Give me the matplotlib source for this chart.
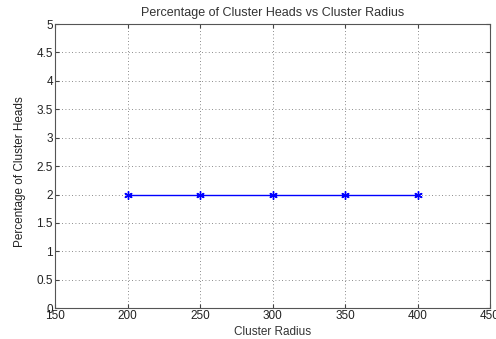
import numpy as np
import matplotlib
matplotlib.use("Agg")
import matplotlib.pyplot as plt

# data
radius = [200, 250, 300, 350, 400]
pct_heads = [2, 2, 2, 2, 2]

xticks = [150, 200, 250, 300, 350, 400, 450]
yticks = [0, 0.5, 1, 1.5, 2, 2.5, 3, 3.5, 4, 4.5, 5]

plt.rcParams['font.family'] = ['Liberation Sans', 'DejaVu Sans']
plt.rcParams['font.size'] = 8.5

fig = plt.figure(figsize=(4.96, 3.39), dpi=100)
ax = fig.add_axes([0.111, 0.091, 0.877, 0.838])

# matlab-ish asterisk marker
ax.plot(radius, pct_heads, color="#0000ff", linewidth=1, marker=(6, 2, 0),
        markersize=6, markeredgewidth=1)

ax.set_xlim(150, 450)
ax.set_ylim(0, 5)
ax.set_xticks(xticks)
ax.set_yticks(yticks)
ax.set_xticklabels([str(t) for t in xticks])
ax.set_yticklabels(["0", "0.5", "1", "1.5", "2", "2.5", "3", "3.5", "4", "4.5", "5"])
ax.grid(True, linestyle=(0, (1, 3)), color="#666666", linewidth=0.6)
ax.tick_params(direction="in", length=3, color="#444444", labelcolor="#222222",
               pad=1.5, top=True, right=True)
for s in ax.spines.values():
    s.set_color("#555555")
    s.set_linewidth(0.8)

ax.set_xlabel("Cluster Radius", color="#333333", labelpad=3)
ax.set_ylabel("Percentage of Cluster Heads", color="#222222")
ax.yaxis.set_label_coords(-0.066, 0.48)
ax.set_title("Percentage of Cluster Heads vs Cluster Radius", color="#333333",
             fontsize=9, pad=6)

fig.savefig("out.png", dpi=100)
